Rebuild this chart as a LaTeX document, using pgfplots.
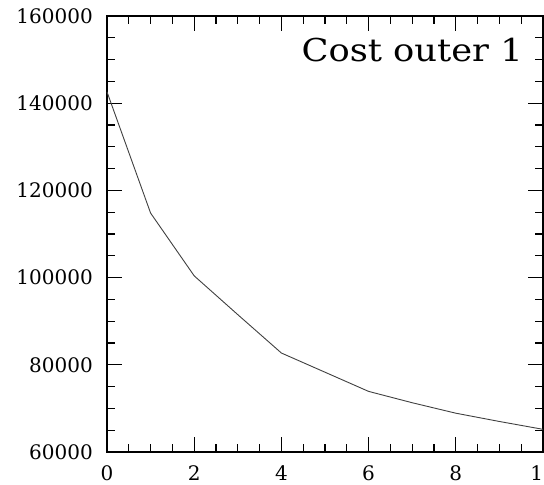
\documentclass[border=0pt]{standalone}
\usepackage{pgfplots}
\pgfplotsset{compat=1.18}
\usepackage{fontspec}
\setmainfont{DejaVu Serif}
\begin{document}
\begin{tikzpicture}
\begin{axis}[
  scale only axis,
  width=436pt, height=436pt,
  at={(107pt,33pt)}, anchor=south west,
  xmin=0, xmax=10, ymin=60000, ymax=160000,
  xtick={0,2,4,6,8,10},
  xticklabels={0,2,4,6,8,10},
  ytick={60000,80000,100000,120000,140000,160000},
  yticklabels={60000,80000,100000,120000,140000,160000},
  minor x tick num=3, minor y tick num=3,
  tick align=inside,
  major tick length=15pt, minor tick length=8pt,
  every tick/.style={black, line width=1.1pt},
  axis line style={line width=1.2pt},
  scaled y ticks=false,
  tick label style={font=\fontsize{20pt}{22pt}\selectfont, inner sep=0pt},
  xticklabel style={anchor=north, yshift=-13pt},
  yticklabel style={anchor=east, xshift=-14pt},
  clip=false,
]
\addplot[draw=black!75, line width=0.9pt] coordinates {
(0,142600) (1,114800) (2,100400) (3,91500) (4,82700) (5,78300)
(6,73900) (7,71300) (8,68900) (9,67000) (10,65200)
};
\node[anchor=base east, inner sep=0pt] at (rel axis cs:1,1)
  [xshift=-20pt,yshift=-46pt]
  {\scalebox{1.12}[1]{\fontsize{31.5pt}{34pt}\selectfont Cost outer 1}};
\end{axis}
\pgfresetboundingbox
\path[use as bounding box] (0,0) rectangle (544pt,485pt);
\end{tikzpicture}
\end{document}
